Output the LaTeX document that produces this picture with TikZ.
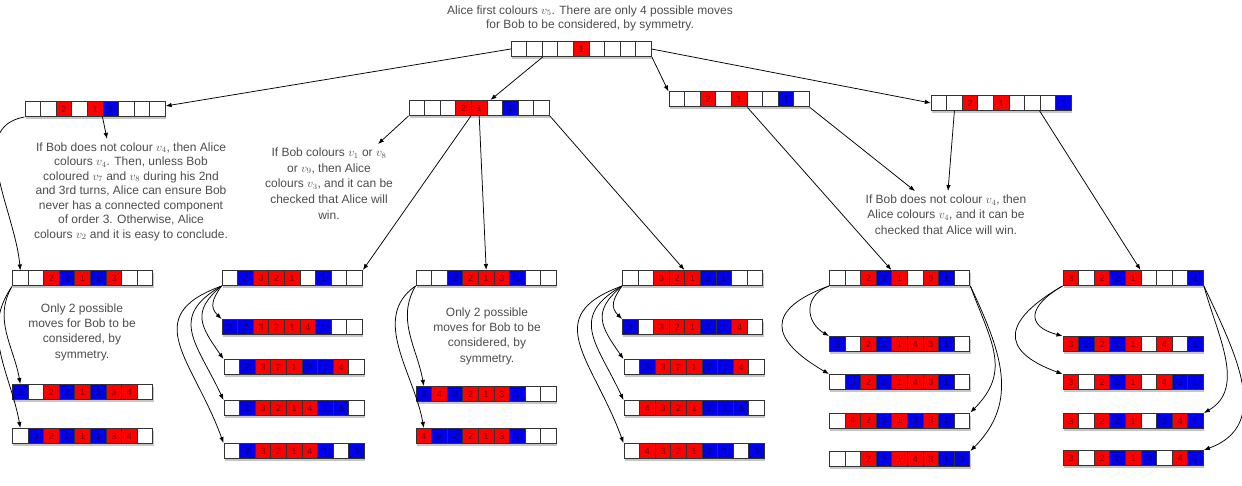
\documentclass[tikz,border=0pt]{standalone}
\usepackage{amsmath, amssymb}
\usepackage{xcolor}
\usepackage{fontspec}
\setmainfont{Liberation Sans}
\usepackage{tikz}
\usetikzlibrary{arrows.meta, shadows}

\tikzset{
  cell/.style={draw=black!80, line width=1pt, minimum width=15.6pt, minimum height=15pt, inner sep=0pt, font=\fontsize{9}{9}\selectfont},
  cell r/.style={fill=red, text=red!45!black},
  cell b/.style={fill=blue!92!black, text=blue!40!black},
  cell w/.style={fill=white},
  rowbox/.style={minimum width=140.4pt, minimum height=15pt, inner sep=0pt, fill=white, drop shadow={shadow xshift=0.6pt, shadow yshift=-2.5pt, opacity=0.45}},
  note/.style={align=center, text=black!70, font=\fontsize{12}{14.8}\selectfont},
  move/.style={-{Latex[length=6pt,width=4.5pt]}, line width=0.75pt}
}

\newcommand{\board}[4]{%
  \node[rowbox] (#1) at ({#2+70.2},#3) {};
  \foreach \col/\num [count=\i] in {#4}
    \node[cell, cell \col] (#1-\i) at ({#2+(\i-0.5)*15.6},#3) {\num};
}

\begin{document}
\begin{tikzpicture}[x=1pt, y=-1pt]
\useasboundingbox (0,0) rectangle (1242,486);

\node[note] (title) at (590,18.5) {Alice first colours $v_5$. There are only 4 possible moves\\ for Bob to be considered, by symmetry.};

\board{root}{511}{49}{w/,w/,w/,w/,r/1,w/,w/,w/,w/}

\board{A}{25}{109}{w/,w/,r/2,w/,r/1,b/1,w/,w/,w/}
\board{B}{409}{108}{w/,w/,w/,r/2,r/1,w/,b/1,w/,w/}
\board{C}{669}{99.5}{w/,w/,r/2,w/,r/1,w/,w/,b/1,w/}
\board{D}{931}{103}{w/,w/,r/2,w/,r/1,w/,w/,w/,b/1}

\node[note, font=\fontsize{12}{14.5}\selectfont] (noteA) at (131,191.5) {If Bob does not colour $v_4$, then Alice\\ colours $v_4$. Then, unless Bob\\ coloured $v_7$ and $v_8$ during his 2nd\\ and 3rd turns, Alice can ensure Bob\\ never has a connected component\\ of order 3. Otherwise, Alice\\ colours $v_2$ and it is easy to conclude.};
\node[note, font=\fontsize{12}{15.8}\selectfont] (noteB) at (329,183.5) {If Bob colours $v_1$ or $v_8$\\ or $v_9$, then Alice\\ colours $v_3$, and it can be\\ checked that Alice will\\ win.};
\node[note, font=\fontsize{12}{15.5}\selectfont] (noteE) at (946,214.5) {If Bob does not colour $v_4$, then\\ Alice colours $v_4$, and it can be\\ checked that Alice will win.};

\board{A2}{12.5}{278.5}{w/,w/,r/2,b/2,r/1,b/1,r/3,w/,w/}
\board{B2}{222}{278}{w/,b/2,r/3,r/2,r/1,w/,b/1,w/,w/}
\board{C2}{416}{278}{w/,w/,b/2,r/2,r/1,r/3,b/1,w/,w/}
\board{D2}{622.5}{278}{w/,w/,r/3,r/2,r/1,b/2,b/1,w/,w/}
\board{E2}{829.5}{278}{w/,w/,r/2,b/2,r/1,w/,r/3,b/1,w/}
\board{F2}{1063}{278}{r/3,w/,r/2,b/2,r/1,w/,w/,w/,b/1}

\node[note, font=\fontsize{12}{15.3}\selectfont] (onlyA) at (82,332) {Only 2 possible\\ moves for Bob to be\\ considered, by\\ symmetry.};
\node[note, font=\fontsize{12}{15.3}\selectfont] (onlyC) at (487,336) {Only 2 possible\\ moves for Bob to be\\ considered, by\\ symmetry.};

\board{A3a}{12.5}{392}{b/3,w/,r/2,b/2,r/1,b/1,r/3,r/4,w/}
\board{A3b}{12.5}{436}{w/,b/3,r/2,b/2,r/1,b/1,r/3,r/4,w/}

\board{B3a}{222}{327}{b/3,b/2,r/3,r/2,r/1,r/4,b/1,w/,w/}
\board{B3b}{224}{367}{w/,b/2,r/3,r/2,r/1,b/3,b/1,r/4,w/}
\board{B3c}{224}{408}{w/,b/2,r/3,r/2,r/1,r/4,b/1,b/3,w/}
\board{B3d}{224}{451}{w/,b/2,r/3,r/2,r/1,r/4,b/1,w/,b/3}

\board{C3a}{416}{394}{b/3,r/4,b/2,r/2,r/1,r/3,b/1,w/,w/}
\board{C3b}{416}{436}{r/4,b/3,b/2,r/2,r/1,r/3,b/1,w/,w/}

\board{D3a}{622.5}{327}{b/3,w/,r/3,r/2,r/1,b/2,b/1,r/4,w/}
\board{D3b}{624}{367}{w/,b/3,r/3,r/2,r/1,b/2,b/1,r/4,w/}
\board{D3c}{624}{408}{w/,r/4,r/3,r/2,r/1,b/2,b/1,b/3,w/}
\board{D3d}{624}{451}{w/,r/4,r/3,r/2,r/1,b/2,b/1,w/,b/3}

\board{E3a}{829.5}{344}{b/3,w/,r/2,b/2,r/1,r/4,r/3,b/1,w/}
\board{E3b}{829.5}{382}{w/,b/3,r/2,b/2,r/1,r/4,r/3,b/1,w/}
\board{E3c}{829.5}{420.5}{w/,r/4,r/2,b/2,r/1,b/3,r/3,b/1,w/}
\board{E3d}{829.5}{459}{w/,w/,r/2,b/2,r/1,r/4,r/3,b/1,b/3}

\board{F3a}{1063}{344}{r/3,b/3,r/2,b/2,r/1,w/,r/4,w/,b/1}
\board{F3b}{1063}{382}{r/3,w/,r/2,b/2,r/1,w/,r/4,b/3,b/1}
\board{F3c}{1063}{421}{r/3,w/,r/2,b/2,r/1,w/,b/3,r/4,b/1}
\board{F3d}{1063}{458}{r/3,w/,r/2,b/2,r/1,b/3,w/,r/4,b/1}

\draw[move] (root.west) -- ([yshift=3pt]A.east);
\draw[move] (root-2.south east) -- ([xshift=4pt]B-6.north west);
\draw[move] (root-9.south east) -- (C-1.north west);
\draw[move] (root.east) -- (D.west);

\draw[move] (A-6.south west) -- ([xshift=-24pt]noteA.north);
\draw[move] (A-1.south west) to[out=190,in=95] (A2-1.north);

\draw[move] (B-1.south west) -- ([xshift=49pt]noteB.north);
\draw[move] (B-5.south west) -- (B2-9.north east);
\draw[move] (B-5.south) -- (C2-5.north);
\draw[move] (B-9.south east) -- (D2-5.north west);

\draw[move] (C-5.south east) -- (E2-5.north west);
\draw[move] (C-9.south east) -- ([xshift=-31pt]noteE.north);

\draw[move] (D-2.south) -- ([xshift=2pt]noteE.north);
\draw[move] (D-8.south west) -- (F2-6.north west);

\draw[move] (A2-1.south west) to[out=240,in=100] (A3a-1.north);
\draw[move] (A2-1.south west) to[out=235,in=100] (A3b-1.north);

\draw[move] (B2-1.south west) to[out=235,in=135,looseness=1.3] (B3a-1.north west);
\draw[move] (B2-1.south west) to[out=220,in=125,looseness=1.4] (B3b-1.north west);
\draw[move] (B2-1.south west) to[out=210,in=115,looseness=1.4] (B3c-1.north west);
\draw[move] (B2-1.south west) to[out=200,in=110,looseness=1.45] (B3d-1.north west);

\draw[move] (C2-1.south west) to[out=240,in=100] (C3a-1.north);
\draw[move] (C2-1.south west) to[out=215,in=100] (C3b-1.north);

\draw[move] (D2-1.south west) to[out=235,in=135,looseness=1.3] (D3a-1.north west);
\draw[move] (D2-1.south west) to[out=220,in=125,looseness=1.4] (D3b-1.north west);
\draw[move] (D2-1.south west) to[out=210,in=115,looseness=1.4] (D3c-1.north west);
\draw[move] (D2-1.south west) to[out=200,in=110,looseness=1.45] (D3d-1.north west);

\draw[move] (E2-1.south west) to[out=200,in=150,looseness=1.4] (E3a-1.north west);
\draw[move] (E2-1.south west) to[out=200,in=150,looseness=2] (E3b-1.north west);
\draw[move] (E2-9.south east) to[out=-70,in=45,looseness=1.2] (E3c-9.north east);
\draw[move] (E2-9.south east) to[out=-65,in=45,looseness=1.1] (E3d-9.north east);

\draw[move] (F2-1.south west) to[out=210,in=165,looseness=2] (F3a-1.north west);
\draw[move] (F2-1.south west) to[out=210,in=160,looseness=2] (F3b-1.north west);
\draw[move] (F2-9.south east) to[out=-75,in=30] (F3c-9.north east);
\draw[move] (F2-9.south east) to[out=-65,in=20,looseness=1.15] (F3d-9.north east);
\end{tikzpicture}
\end{document}
